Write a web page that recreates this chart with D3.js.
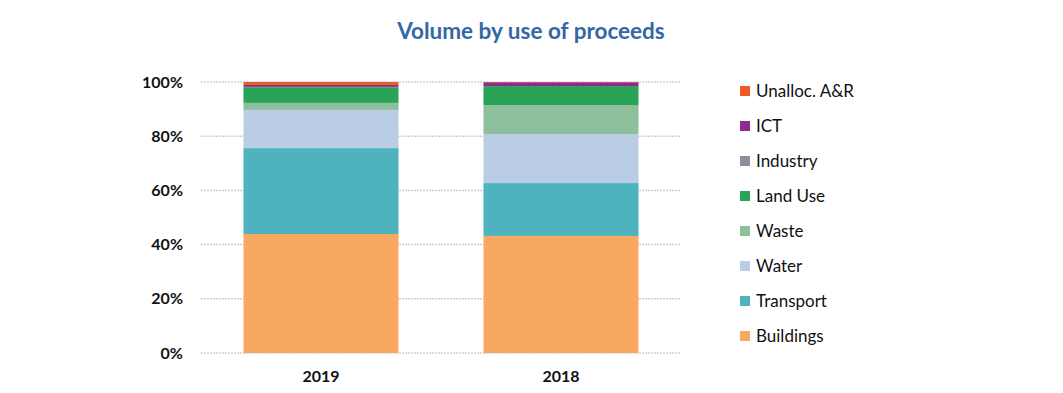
<!DOCTYPE html>
<html>
<head>
<meta charset="utf-8">
<script src="https://cdn.jsdelivr.net/npm/d3@7"></script>
<style>
  body { margin: 0; background: #fff; }
  text { font-family: Lato, "Open Sans", sans-serif; }
</style>
</head>
<body>
<div id="container"></div>
<script>
/* DATA */
const years = ["2019", "2018"];
const categories = ["Buildings", "Transport", "Water", "Waste", "Land Use", "Industry", "ICT", "Unalloc. A&R"];
const colors = ["#F9A862", "#4FB3BF", "#B9CDE5", "#8EBF9C", "#29A457", "#8F8F9C", "#8E2B8E", "#F15A24"];
// share (%) per category, same order as categories
const values2019 = [43.9, 31.7, 14.1, 2.6, 5.8, 0.1, 0.7, 1.1];
const values2018 = [43.2, 19.5, 18.1, 10.7, 7.0, 0.0, 1.4, 0.1];
const yTicks = [0, 20, 40, 60, 80, 100];

const width = 1063, height = 393;
const margin = { top: 82, bottom: 40, left: 201, right: 382 };

const rows = years.map((y, i) => {
  const vals = i === 0 ? values2019 : values2018;
  const r = { year: y };
  categories.forEach((c, j) => r[c] = vals[j]);
  return r;
});

const svg = d3.select("#container").append("svg")
  .attr("width", width).attr("height", height);

const xScale = d3.scaleBand()
  .domain(years)
  .range([margin.left, width - margin.right])
  .paddingInner(0.354)
  .paddingOuter(0.177);

const yScale = d3.scaleLinear()
  .domain([0, 100])
  .range([353, margin.top]);

const colorScale = d3.scaleOrdinal(categories, colors);

// title
svg.append("text")
  .attr("x", 531).attr("y", 39)
  .attr("text-anchor", "middle")
  .attr("font-size", "22.5px")
  .attr("font-weight", "bold")
  .attr("fill", "#3467A6")
  .text("Volume by use of proceeds");

// gridlines
svg.append("g")
  .selectAll("line")
  .data(yTicks)
  .join("line")
  .attr("x1", margin.left).attr("x2", width - margin.right)
  .attr("y1", d => yScale(d)).attr("y2", d => yScale(d))
  .attr("stroke", "#cfcfcf")
  .attr("stroke-width", 1.5)
  .attr("stroke-dasharray", "2,1");

// y axis labels
const yAxis = d3.axisLeft(yScale).tickValues(yTicks).tickFormat(d => d + "%").tickSize(0).tickPadding(18);
svg.append("g")
  .attr("transform", `translate(${margin.left}, 0)`)
  .call(yAxis)
  .call(g => g.select(".domain").remove())
  .selectAll(".tick text")
  .attr("font-size", "16px")
  .attr("font-weight", "bold")
  .attr("fill", "#111")
  .style("font-family", "Lato, 'Open Sans', sans-serif");

// x axis labels
const xAxis = d3.axisBottom(xScale).tickSize(0).tickPadding(18);
svg.append("g")
  .attr("transform", `translate(0, ${yScale(0)})`)
  .call(xAxis)
  .call(g => g.select(".domain").remove())
  .selectAll(".tick text")
  .attr("font-size", "16px")
  .attr("font-weight", "bold")
  .attr("fill", "#111")
  .style("font-family", "Lato, 'Open Sans', sans-serif");

// stacked bars
const series = d3.stack().keys(categories)(rows);
svg.append("g")
  .selectAll("g")
  .data(series)
  .join("g")
  .attr("fill", d => colorScale(d.key))
  .selectAll("rect")
  .data(d => d)
  .join("rect")
  .attr("x", d => xScale(d.data.year))
  .attr("width", xScale.bandwidth())
  .attr("y", d => yScale(d[1]))
  .attr("height", d => yScale(d[0]) - yScale(d[1]));

// legend (top item is the last series)
const legendItems = categories.slice().reverse();
const legend = svg.append("g")
  .selectAll("g")
  .data(legendItems)
  .join("g")
  .attr("transform", (d, i) => `translate(740, ${91 + i * 35})`);

legend.append("rect")
  .attr("x", 0).attr("y", -5)
  .attr("width", 10).attr("height", 10)
  .attr("fill", d => colorScale(d));

legend.append("text")
  .attr("x", 16).attr("y", 0)
  .attr("dy", "0.35em")
  .attr("font-size", "17px")
  .attr("fill", "#111")
  .text(d => d);
</script>
</body>
</html>
